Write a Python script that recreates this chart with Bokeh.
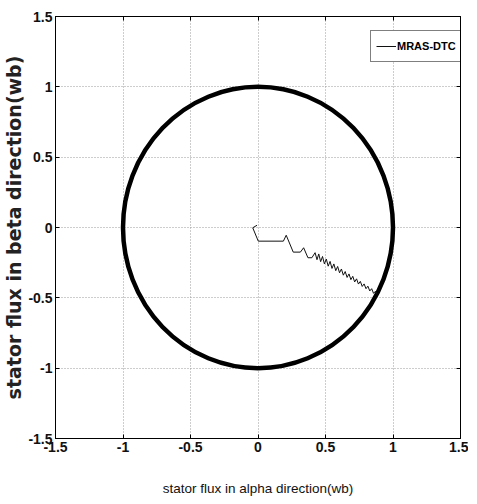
from bokeh.plotting import figure
from bokeh.models import Range1d, FixedTicker, LinearAxis, Legend, LegendItem
from bokeh.embed import file_html
from bokeh.resources import INLINE

# ---- data ----
tick_values = [-1.5, -1.0, -0.5, 0.0, 0.5, 1.0, 1.5]
tick_labels = ["-1.5", "-1", "-0.5", "0", "0.5", "1", "1.5"]

# steady-state flux locus (circle of radius 1 wb)
ring_x = [0.0]
ring_y = [0.0]
ring_diameter = [2.0]

# start-up transient of the flux vector
trans_x = [-0.007, -0.039, 0.002, 0.188, 0.209, 0.261, 0.314, 0.338, 0.370, 0.399,
           0.423, 0.437, 0.450, 0.464, 0.478, 0.492, 0.506, 0.520, 0.534, 0.548,
           0.562, 0.576, 0.590, 0.604, 0.618, 0.632, 0.646, 0.660, 0.674, 0.688,
           0.702, 0.716, 0.730, 0.744, 0.758, 0.772, 0.786, 0.800, 0.814, 0.828,
           0.842, 0.856, 0.870, 0.884]
trans_y = [0.016, -0.002, -0.097, -0.097, -0.055, -0.175, -0.175, -0.144, -0.215, -0.215,
           -0.179, -0.229, -0.188, -0.243, -0.206, -0.259, -0.224, -0.275, -0.241, -0.291,
           -0.259, -0.307, -0.277, -0.322, -0.295, -0.339, -0.313, -0.355, -0.330, -0.371,
           -0.347, -0.387, -0.365, -0.402, -0.383, -0.419, -0.401, -0.435, -0.417, -0.451,
           -0.435, -0.468, -0.453, -0.475]

series_name = "MRAS-DTC"
x_title = "stator flux in alpha direction(wb)"
y_title = "stator flux in beta direction(wb)"

TICK_FONT = "Liberation Sans"

p = figure(width=468, height=498, output_backend="svg", toolbar_location=None,
           x_range=Range1d(-1.5, 1.5), y_range=Range1d(-1.5, 1.5),
           min_border_left=49, min_border_right=8, min_border_top=16, min_border_bottom=60)

p.background_fill_color = "white"
p.border_fill_color = "white"
p.outline_line_color = "black"
p.outline_line_width = 1

ring = p.ellipse(x=ring_x, y=ring_y, width=ring_diameter, height=ring_diameter,
                 fill_color=None, line_color="black", line_width=4.5)
trans = p.line(trans_x, trans_y, line_color="#111111", line_width=1)

ticker = FixedTicker(ticks=tick_values)
overrides = {v: s for v, s in zip(tick_values, tick_labels)}

for ax in [p.xaxis[0], p.yaxis[0]]:
    ax.ticker = ticker
    ax.major_label_overrides = overrides
    ax.major_tick_in = 4
    ax.major_tick_out = 0
    ax.minor_tick_in = 0
    ax.minor_tick_out = 0
    ax.axis_line_color = "black"
    ax.major_tick_line_color = "black"
    ax.major_label_text_font = TICK_FONT
    ax.major_label_text_font_style = "bold"
    ax.major_label_text_font_size = "14px"
    ax.major_label_text_color = "#111111"
    ax.major_label_standoff = 3

p.xaxis[0].axis_label = x_title
p.xaxis[0].axis_label_text_font = TICK_FONT
p.xaxis[0].axis_label_text_font_style = "normal"
p.xaxis[0].axis_label_text_font_size = "13.5px"
p.xaxis[0].axis_label_text_color = "#111111"
p.xaxis[0].axis_label_standoff = 26

p.yaxis[0].axis_label = y_title
p.yaxis[0].axis_label_text_font = "DejaVu Sans"
p.yaxis[0].axis_label_text_font_style = "bold"
p.yaxis[0].axis_label_text_font_size = "19px"
p.yaxis[0].axis_label_text_color = "#222222"
p.yaxis[0].axis_label_standoff = 0

# inward ticks on top and right frame edges (no labels)
for side in ["above", "right"]:
    ax = LinearAxis(ticker=ticker)
    ax.major_label_text_font_size = "0px"
    ax.major_label_text_alpha = 0
    ax.major_label_standoff = 0
    ax.major_tick_in = 4
    ax.major_tick_out = 0
    ax.minor_tick_in = 0
    ax.minor_tick_out = 0
    ax.axis_line_color = "black"
    p.add_layout(ax, side)

for g in [p.xgrid[0], p.ygrid[0]]:
    g.ticker = ticker
    g.grid_line_color = "#9a9a9a"
    g.grid_line_dash = "1 2"
    g.grid_line_width = 1

legend = Legend(items=[LegendItem(label=series_name, renderers=[trans])],
                location=(315, 376))
legend.label_text_font = TICK_FONT
legend.label_text_font_style = "bold"
legend.label_text_font_size = "11px"
legend.label_text_color = "black"
legend.glyph_width = 20
legend.glyph_height = 20
legend.label_standoff = 1
legend.padding = 5
legend.spacing = 0
legend.margin = 0
legend.border_line_color = "black"
legend.border_line_width = 1
legend.background_fill_color = "white"
legend.background_fill_alpha = 1
p.add_layout(legend, "center")

open("out.html", "w").write(file_html(p, INLINE))
